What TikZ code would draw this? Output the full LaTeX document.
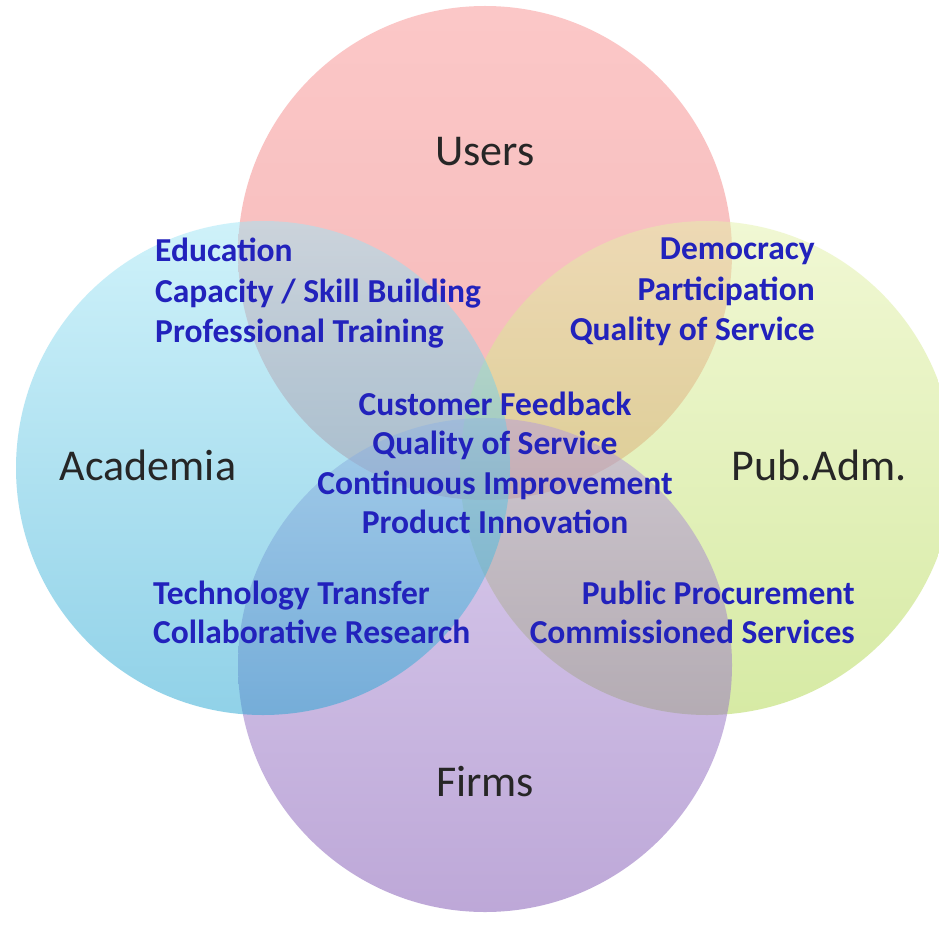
\documentclass[tikz,border=0pt]{standalone}
\usepackage{fontspec}
\setmainfont{Carlito}
\definecolor{usrT}{RGB}{249,145,145}
\definecolor{usrB}{RGB}{236,115,115}
\definecolor{acaT}{RGB}{160,230,246}
\definecolor{acaB}{RGB}{35,165,210}
\definecolor{pubT}{RGB}{228,242,170}
\definecolor{pubB}{RGB}{175,215,75}
\definecolor{firT}{RGB}{182,155,220}
\definecolor{firB}{RGB}{125,82,178}
\definecolor{bluetxt}{RGB}{34,34,188}
\definecolor{labtxt}{RGB}{38,38,38}
\tikzset{
  setlabel/.style={text=labtxt, font=\fontsize{44}{52}\selectfont, inner sep=0pt},
  itemsL/.style={text=bluetxt, font=\fontsize{33.5}{40.5}\selectfont\bfseries, align=left, inner sep=0pt},
  itemsR/.style={text=bluetxt, font=\fontsize{33.5}{40.5}\selectfont\bfseries, align=right, inner sep=0pt},
  itemsC/.style={text=bluetxt, font=\fontsize{33.5}{39.2}\selectfont\bfseries, align=center, inner sep=0pt},
  itemsB/.style={text=bluetxt, font=\fontsize{33.5}{39}\selectfont\bfseries, inner sep=0pt},
  venn/.style={opacity=0.5}
}
\begin{document}
\begin{tikzpicture}[x=1pt,y=-1pt]
\useasboundingbox (0,0) rectangle (939,925);
\fill[white] (0,0) rectangle (939,925);
% circles (drawn in order: Users, Pub.Adm., Firms, Academia)
\shade[venn, top color=usrT, bottom color=usrB] (485,253) circle (247);
\shade[venn, top color=pubT, bottom color=pubB] (707,468) circle (247);
\shade[venn, top color=firT, bottom color=firB] (485,665) circle (247);
\shade[venn, top color=acaT, bottom color=acaB] (263,468) circle (247);
% set labels
\node[setlabel] (users) at (485,152) {Users};
\node[setlabel] (acad) at (148,465) {Academia};
\node[setlabel] (pubadm) at (819,465) {Pub.Adm.};
\node[setlabel] (firms) at (485,782) {Firms};
% overlap texts
\node[itemsL, anchor=north west] (ua) at (155,238) {Education\\Capacity / Skill Building\\Professional Training};
\node[itemsR, anchor=north east] (up) at (815,238) {Democracy\\Participation\\Quality of Service};
\node[itemsC, anchor=north] (center) at (495,392) {Customer Feedback\\Quality of Service\\Continuous Improvement\\Product Innovation};
\node[itemsB, align=left, anchor=north west] (af) at (153,581) {Technology Transfer\\Collaborative Research};
\node[itemsB, align=right, anchor=north east] (pf) at (855,581) {Public Procurement\\Commissioned Services};
\end{tikzpicture}
\end{document}
